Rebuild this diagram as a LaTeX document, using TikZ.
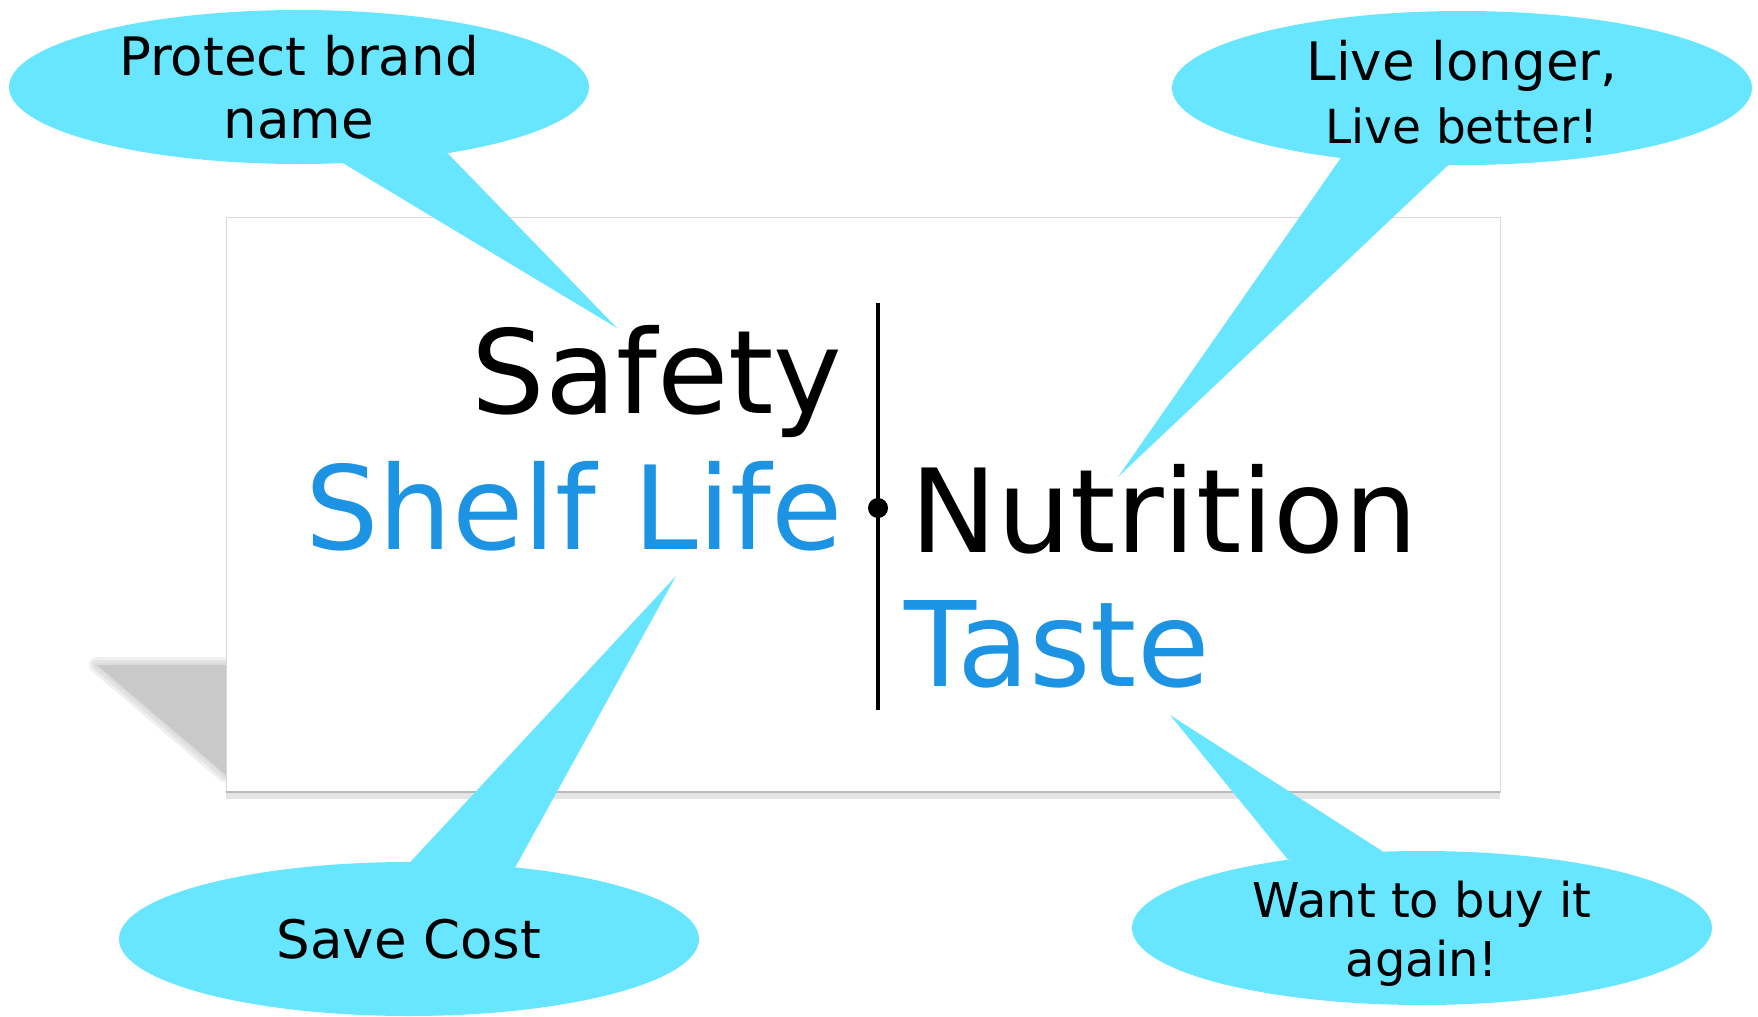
\documentclass[tikz,border=0pt]{standalone}
\usepackage{fontspec}
\setmainfont{DejaVu Sans}
\usetikzlibrary{shapes.geometric}
\definecolor{bubblecyan}{HTML}{69E6FF}
\definecolor{logoblue}{HTML}{1C93E3}

\begin{document}
\begin{tikzpicture}[x=0.5pt, y=-0.5pt,
  bubble/.style = {ellipse, fill=bubblecyan, inner sep=0pt, outer sep=0pt, minimum width=290pt, minimum height=77pt},
  say/.style = {align=center, inner sep=0pt, font=\fontsize{26.5}{31.5}\selectfont},
  word/.style = {inner sep=0pt, font=\fontsize{58}{60}\selectfont}]
\useasboundingbox (0,0) rectangle (1758,1017);

% card with its shadow (soft edge from a few faint strokes)
\foreach \w in {8,5,2}
  \draw[gray!42, opacity=0.3, line width=\w pt, line join=round] (97,665) -- (226,665) -- (226,775) -- cycle;
\fill[gray!42] (97,665) -- (226,665) -- (226,775) -- cycle;
\node[draw=gray!30, fill=white, inner sep=0pt, minimum width=637pt, minimum height=287.5pt] (card) at (863,504.5) {};
\draw[gray!20, line width=3pt] ([yshift=-2pt]card.south west) -- ([yshift=-2pt]card.south east);
\draw[gray!55, line width=1pt] (card.south west) -- (card.south east);

% words of the logo
\node[word, anchor=base east] (safety) at (843,413) {Safety};
\node[word, anchor=base east, text=logoblue] (shelf) at (843,549) {Shelf Life};
\node[word, anchor=base west] (nutrition) at (910,552) {Nutrition};
\node[word, anchor=base west, text=logoblue, font=\fontsize{59}{60}\selectfont] (taste) at (904,686) {Taste};
\coordinate (bartop) at (878,303);
\coordinate (barbot) at (878,710);
\draw[line width=2.3pt] (bartop) -- (barbot);
\node[circle, fill, inner sep=0pt, minimum size=10pt] (dot) at (878,508) {};

% speech bubbles
\node[bubble, label={[say]center:{Protect brand\\name}}] (brand) at (299,87) {};
\node[bubble, label={[say, yshift=-2pt]center:{Live longer,\\\fontsize{23.5}{28}\selectfont Live better!}}] (live) at (1462,88) {};
\node[bubble, label={[say]center:{Save Cost}}] (cost) at (409,939) {};
\node[bubble, label={[say, yshift=-3pt, font=\fontsize{24}{29.5}\selectfont]center:{Want to buy it\\again!}}] (again) at (1422,928) {};

% bubble tails
\coordinate (brandtip) at (617,328);
\coordinate (livetip) at (1118,477);
\coordinate (costtip) at (676,576);
\coordinate (againtip) at (1170,715);
\fill[bubblecyan] (brand.-60) -- (brandtip) -- (brand.-24) -- cycle;
\fill[bubblecyan] (live.-150) -- (livetip) -- (live.-100) -- cycle;
\fill[bubblecyan] (cost.89) -- (costtip) -- (cost.34) -- cycle;
\fill[bubblecyan] (again.153) -- (againtip) -- (again.117) -- cycle;
\end{tikzpicture}
\end{document}
